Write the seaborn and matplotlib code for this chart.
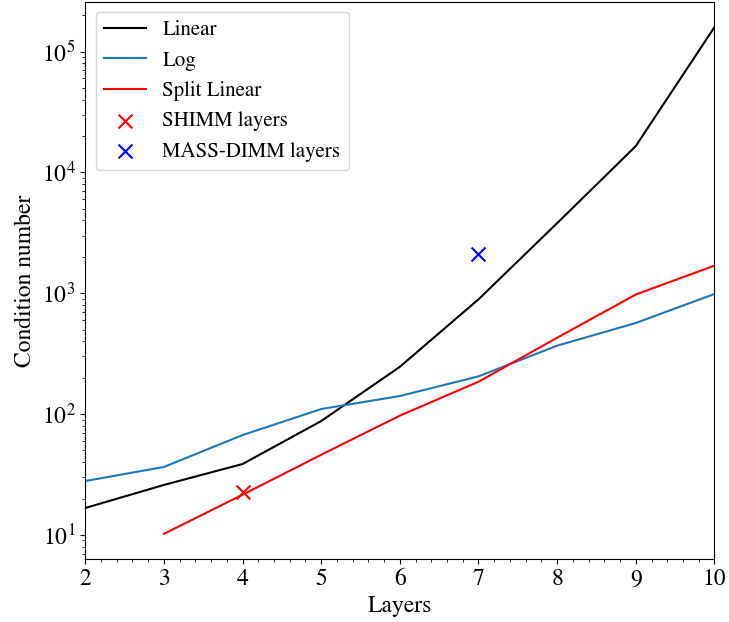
import matplotlib
matplotlib.use('Agg')
import matplotlib.pyplot as plt
import seaborn as sns
import numpy as np
import pandas as pd
from matplotlib.ticker import MultipleLocator

plt.rcParams['font.family'] = 'STIXGeneral'
plt.rcParams['mathtext.fontset'] = 'stix'

# values
layers = [2, 3, 4, 5, 6, 7, 8, 9, 10]
linear = [16.7, 25.9, 38.6, 87.5, 246, 890, 3800, 16500, 159000]
log = [27.9, 36.5, 67, 110, 141, 205, 368, 567, 985]
split_layers = [3, 4, 5, 6, 7, 8, 9, 10]
split_linear = [10.2, 21.5, 46, 97, 185, 428, 975, 1690]

shimm_layers = [4]
shimm_cond = [22.7]
massdimm_layers = [7]
massdimm_cond = [2100]

fig, ax = plt.subplots(figsize=(7.29, 6.22), dpi=100)

sns.lineplot(x=layers, y=linear, color='black', label='Linear', ax=ax)
sns.lineplot(x=layers, y=log, color='#1f77b4', label='Log', ax=ax)
sns.lineplot(x=split_layers, y=split_linear, color='red', label='Split Linear', ax=ax)
sns.scatterplot(x=shimm_layers, y=shimm_cond, marker='x', color='red', s=100,
                linewidth=1.5, label='SHIMM layers', ax=ax)
sns.scatterplot(x=massdimm_layers, y=massdimm_cond, marker='x', color='blue', s=100,
                linewidth=1.5, label='MASS-DIMM layers', ax=ax)

ax.set_yscale('log')
ax.set_xlim(2, 10)
ax.xaxis.set_minor_locator(MultipleLocator(0.2))
ax.tick_params(labelsize=17)
ax.set_xlabel('Layers', fontsize=17)
ax.set_ylabel('Condition number', fontsize=17)
ax.legend(loc='upper left', fontsize=15)

plt.subplots_adjust(left=0.117, right=0.98, top=0.997, bottom=0.101)
plt.savefig('out.png', dpi=100)
